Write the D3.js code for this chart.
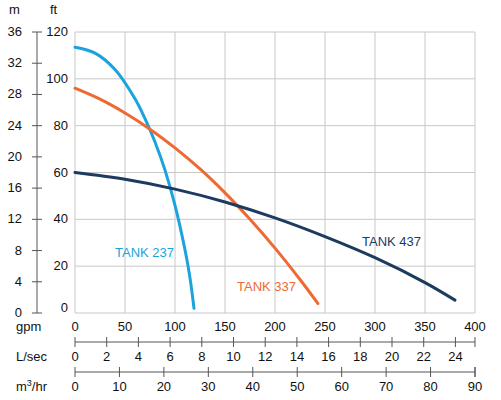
<!DOCTYPE html>
<html><head><meta charset="utf-8">
<script src="https://cdn.jsdelivr.net/npm/d3@7"></script>
<style>body{margin:0;background:#fff}text{font-family:"Liberation Sans",Arial,sans-serif;font-size:13px;fill:#111}</style>
</head><body><svg id="c" width="501" height="400"></svg>
<script>
const tank237 = [[0,113.5],[20,111],[40,104],[60,91.5],[70,83],[80,73],[90,61],[100,46],[110,27],[115,15],[119,2]];
const tank337 = [[0,96],[25,91.3],[50,85.4],[75,78.5],[100,70.5],[125,61.5],[150,51.3],[175,40],[200,27.7],[225,14.3],[243,4]];
const tank437 = [[0,60],[50,57.1],[100,52.9],[150,47.4],[200,40.6],[250,32.6],[300,23.6],[350,13],[380,5.5]];
const series = [
  {name:"TANK 237", data:tank237, color:"#1aa3dd", lx:115, ly:257},
  {name:"TANK 337", data:tank337, color:"#ee6a33", lx:237, ly:291},
  {name:"TANK 437", data:tank437, color:"#1c3b5e", lx:362, ly:246}
];
const gpmTicks = d3.range(0,401,50), ftTicks = d3.range(0,121,20);
const mTicks = [0,4,8,12,16,20,24,28,32,36];
const lsTicks = d3.range(0,25,2), m3Ticks = d3.range(0,91,10);

const svg = d3.select("#c");
const x = d3.scaleLinear().domain([0,400]).range([75,475]);
const y = d3.scaleLinear().domain([0,120]).range([313,32]);
const yM = d3.scaleLinear().domain([0,36]).range([313,32]);
const xL = d3.scaleLinear().domain([0,400*0.06309]).range([75,475]);
const xM = d3.scaleLinear().domain([0,90]).range([75,475]);

// grid
svg.append("g").selectAll("line").data(gpmTicks).join("line")
  .attr("x1",x).attr("x2",x).attr("y1",32).attr("y2",313).attr("stroke","#c8c8c8");
svg.append("g").selectAll("line").data(ftTicks).join("line")
  .attr("x1",75).attr("x2",475).attr("y1",y).attr("y2",y).attr("stroke","#c8c8c8");

// left axes
svg.append("line").attr("x1",37).attr("x2",37).attr("y1",yM(36)).attr("y2",313).attr("stroke","#555");
svg.append("g").selectAll("line").data(mTicks).join("line")
  .attr("x1",32).attr("x2",42).attr("y1",yM).attr("y2",yM).attr("stroke","#555");
svg.append("g").selectAll("text").data(mTicks).join("text")
  .attr("x",22).attr("y",d=>yM(d)+4).attr("text-anchor","end").text(d=>d);
svg.append("g").selectAll("text").data(ftTicks).join("text")
  .attr("x",68).attr("y",d=>y(d)+(d===0?-1:4)).attr("text-anchor","end").text(d=>d);
svg.append("text").attr("x",9).attr("y",14).text("m");
svg.append("text").attr("x",50).attr("y",14).text("ft");

// bottom axes
svg.append("g").selectAll("text").data(gpmTicks).join("text")
  .attr("x",x).attr("y",331).attr("text-anchor","middle").text(d=>d);
svg.append("text").attr("x",16).attr("y",331).text("gpm");

function hAxis(scale, ticks, ly, lab){
  svg.append("line").attr("x1",75).attr("x2",475).attr("y1",ly).attr("y2",ly).attr("stroke","#555");
  svg.append("g").selectAll("line").data(ticks).join("line")
    .attr("x1",scale).attr("x2",scale).attr("y1",ly-5).attr("y2",ly+5).attr("stroke","#555");
  svg.append("line").attr("x1",475).attr("x2",475).attr("y1",ly-5).attr("y2",ly+5).attr("stroke","#555");
  svg.append("g").selectAll("text").data(ticks).join("text")
    .attr("x",scale).attr("y",ly+19).attr("text-anchor","middle").text(d=>d);
  lab(svg.append("text").attr("x",16).attr("y",ly+19));
}
hAxis(xL, lsTicks, 342, t=>t.text("L/sec"));
hAxis(xM, m3Ticks, 372, t=>{t.text("m");t.append("tspan").attr("dy",-5).style("font-size","9px").text("3");t.append("tspan").attr("dy",5).text("/hr");});

// curves
const line = d3.line().x(d=>x(d[0])).y(d=>y(d[1])).curve(d3.curveCatmullRom);
series.forEach(s=>{
  svg.append("path").attr("d",line(s.data)).attr("fill","none")
    .attr("stroke",s.color).attr("stroke-width",3).attr("stroke-linecap","round");
  svg.append("text").attr("x",s.lx).attr("y",s.ly).style("fill",s.color).text(s.name);
});
</script></body></html>
